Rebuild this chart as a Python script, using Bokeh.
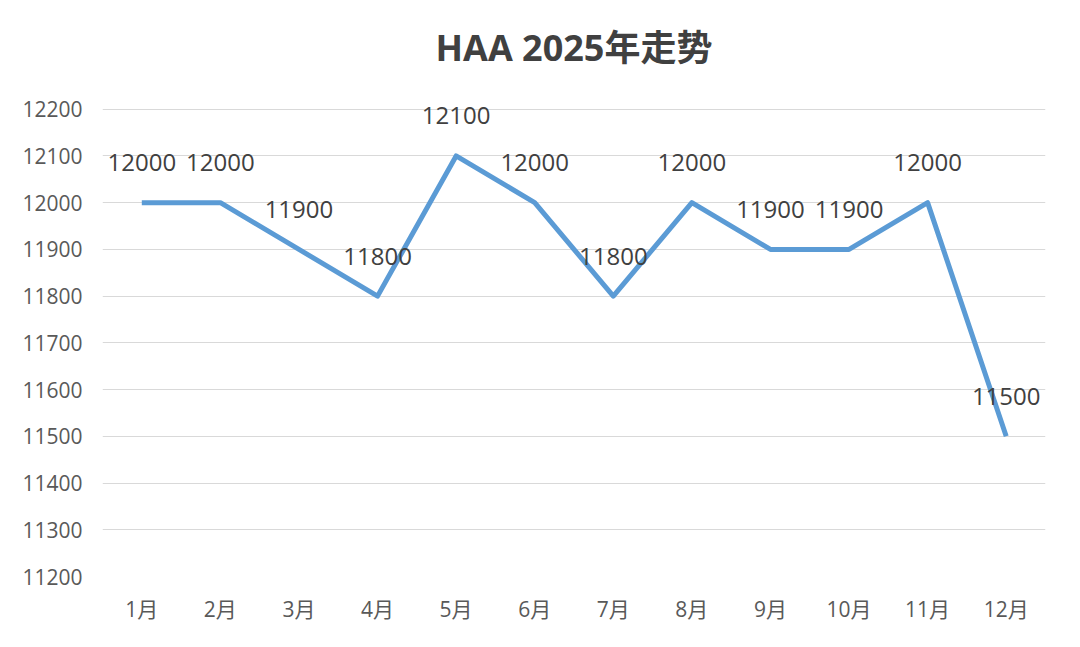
from bokeh.plotting import figure
from bokeh.models import ColumnDataSource, FactorRange, Range1d, LabelSet, FixedTicker, Title
from bokeh.embed import file_html
from bokeh.resources import INLINE
from bokeh.core.properties import value

months = ["1月", "2月", "3月", "4月", "5月", "6月", "7月", "8月", "9月", "10月", "11月", "12月"]
prices = [12000, 12000, 11900, 11800, 12100, 12000, 11800, 12000, 11900, 11900, 12000, 11500]
y_ticks = [11200, 11300, 11400, 11500, 11600, 11700, 11800, 11900, 12000, 12100, 12200]
title_text = "HAA 2025年走势"

FONT = "Open Sans, Noto Sans CJK SC"

src = ColumnDataSource(dict(m=months, v=prices, t=[str(v) for v in prices]))

# y range extended slightly above 12200 so the 12100 data label is not clipped
p = figure(width=1064, height=631, x_range=FactorRange(factors=months),
           y_range=Range1d(11200, 12240), output_backend="svg", toolbar_location=None,
           min_border_left=102, min_border_right=19, min_border_top=90, min_border_bottom=55)
p.outline_line_color = None
p.background_fill_color = "white"
p.border_fill_color = "white"

t = Title(text=title_text, align="center", text_font_size="36px",
          text_font=FONT, text_font_style="bold", text_color="#404040", standoff=37)
p.add_layout(t, "above")

p.line("m", "v", source=src, line_color="#5B9BD5", line_width=5, line_join="round")

labels = LabelSet(x="m", y="v", text="t", source=src, y_offset=40, text_align="center",
                  text_baseline="middle", text_font_size="24px", text_font=value(FONT),
                  text_color="#404040")
p.add_layout(labels)

p.yaxis.ticker = FixedTicker(ticks=y_ticks)
for ax in (p.xaxis, p.yaxis):
    ax.axis_line_color = None
    ax.major_tick_line_color = None
    ax.minor_tick_line_color = None
    ax.major_label_text_font = FONT
    ax.major_label_text_color = "#595959"
p.yaxis.major_label_text_font_size = "21px"
p.xaxis.major_label_text_font_size = "21px"
p.yaxis.major_label_standoff = 14
p.xaxis.major_label_standoff = 12
p.xgrid.grid_line_color = None
p.ygrid.grid_line_color = "#D9D9D9"
p.ygrid.grid_line_width = 1

open("out.html", "w").write(file_html(p, INLINE))
